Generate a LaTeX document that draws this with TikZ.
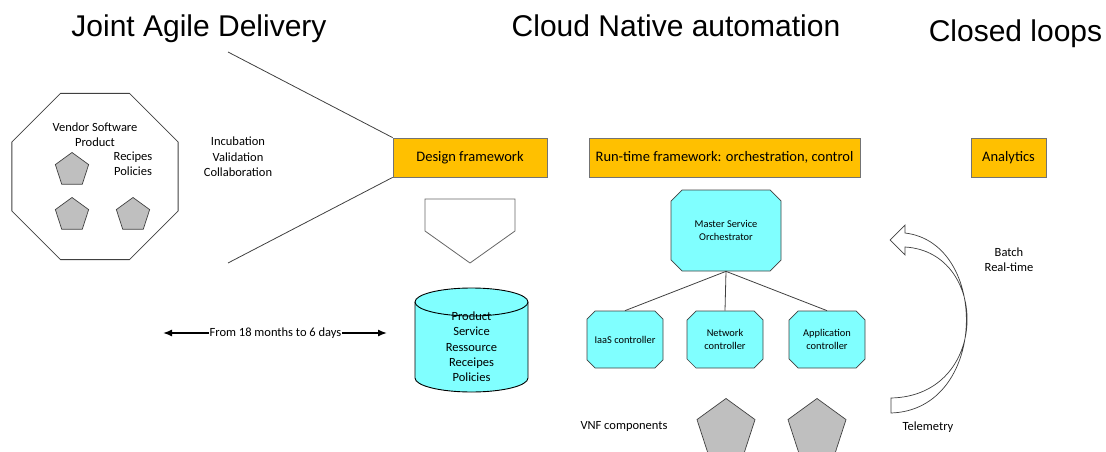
\documentclass[tikz,border=0pt]{standalone}
\usepackage{fontspec}
\setmainfont{Carlito}
\newfontfamily\titlefont{Liberation Sans}
\usetikzlibrary{shapes.geometric,shapes.misc,arrows.meta}
\definecolor{orangeC}{HTML}{FFC000}
\definecolor{cyanC}{HTML}{80FFFF}
\definecolor{grayC}{HTML}{BFBFBF}
\definecolor{lineC}{HTML}{404040}
\begin{document}
\begin{tikzpicture}[x=1pt,y=-1pt,
  every node/.style={font=\fontsize{12.5}{15}\selectfont, align=center, inner sep=0pt},
  titletext/.style={font=\titlefont\fontsize{30}{34}\selectfont, anchor=base},
  lbl/.style={font=\fontsize{12.5}{15.3}\selectfont},
  orangebox/.style={draw=black!55, fill=orangeC, minimum height=39pt, line width=0.8pt, font=\fontsize{14.5}{17}\selectfont},
  penta/.style={regular polygon, regular polygon sides=5, draw=lineC, fill=grayC, line width=0.7pt},
  ctrl/.style={chamfered rectangle, chamfered rectangle xsep=4.5pt, chamfered rectangle ysep=4.5pt, draw=lineC, fill=cyanC, line width=0.7pt, minimum width=76pt, minimum height=57pt, font=\fontsize{10.4}{12.5}\selectfont},
  conn/.style={draw=lineC, line width=0.8pt}
]
\useasboundingbox (0,0) rectangle (1106,452);

% titles
\node[titletext] (t1) at (199,37) {Joint Agile Delivery};
\node[titletext] (t2) at (676,37) {Cloud Native automation};
\node[titletext] (t3) at (1015.5,42) {Closed loops};

% vendor octagon
\node[regular polygon, regular polygon sides=8, minimum size=180pt, draw=lineC, line width=0.8pt] (oct) at (95,176.5) {};
\node[lbl] (vsp) at (95,134.5) {Vendor Software\\Product};
\node[lbl] (rp) at (133,164) {Recipes\\Policies};
\node[penta, minimum size=35pt] (p1) at (72,170) {};
\node[penta, minimum size=35pt] (p2) at (72,215) {};
\node[penta, minimum size=35pt] (p3) at (133,215) {};

\node[lbl] (ivc) at (238,157) {Incubation\\Validation\\Collaboration};

% orange boxes
\node[orangebox, minimum width=154pt] (df) at (470,157.5) {Design framework};
\node[orangebox, minimum width=271pt] (rt) at (724.5,157.5) {Run-time framework: orchestration, control};
\node[orangebox, minimum width=75pt] (an) at (1008.5,157.5) {Analytics};

% funnel lines
\coordinate (f1) at (228,52);
\coordinate (f2) at (228,263);
\draw[conn] (f1) -- (df.north west);
\draw[conn] (f2) -- (df.south west);

% down pentagon arrow
\draw[draw=black!60, line width=0.8pt] (425,199) -- (515,199) -- (515,231) -- (470,263) -- (425,231) -- cycle;

% cylinder
\draw[draw=black, fill=cyanC, line width=0.9pt] (415,302) -- (415,378) arc[start angle=180, end angle=360, x radius=56.5pt, y radius=14pt] -- (528,302);
\draw[draw=black, fill=cyanC, line width=0.9pt] (471.5,302) ellipse[x radius=56.5pt, y radius=14pt];
\node[lbl] (db) at (471.5,347) {Product\\Service\\Ressource\\Receipes\\Policies};

% double arrow
\coordinate (la) at (163,333);
\coordinate (lb) at (387,333);
\draw[black, line width=1.4pt, {Latex[length=9pt,width=7pt]}-{Latex[length=9pt,width=7pt]}] (la) -- (lb);
\node[lbl, fill=white, inner xsep=1pt] (fm) at (275.5,333) {From 18 months to 6 days};

% MSO & controllers
\node[ctrl, chamfered rectangle xsep=5.5pt, chamfered rectangle ysep=5.5pt, minimum width=110pt, minimum height=81pt] (mso) at (726,230.5) {Master Service\\Orchestrator};
\node[ctrl] (iaas) at (625,339.5) {IaaS controller};
\node[ctrl] (net) at (725,339.5) {Network\\controller};
\node[ctrl] (app) at (827,339.5) {Application\\controller};
\draw[conn] (mso.south) -- (iaas.north);
\draw[conn] (mso.south) -- (net.north);
\draw[conn] (mso.south) -- (app.north);

% VNF pentagons
\node[penta, minimum size=61pt] (v1) at (726,429) {};
\node[penta, minimum size=61pt] (v2) at (817,429) {};
\node[lbl] (vnf) at (624,426) {VNF components};

% curved block arrow
\draw[draw=lineC, fill=white, line width=0.7pt]
  (891,413) .. controls (988,410) and (990,243) .. (905,233)
  -- (905,225) -- (890,240) -- (905,255) -- (905,247)
  .. controls (990,252) and (990,396) .. (891,398) -- cycle;

\node[lbl] (br) at (1009,259.5) {Batch\\Real-time};
\node[lbl] (tel) at (928,427) {Telemetry};
\end{tikzpicture}
\end{document}
